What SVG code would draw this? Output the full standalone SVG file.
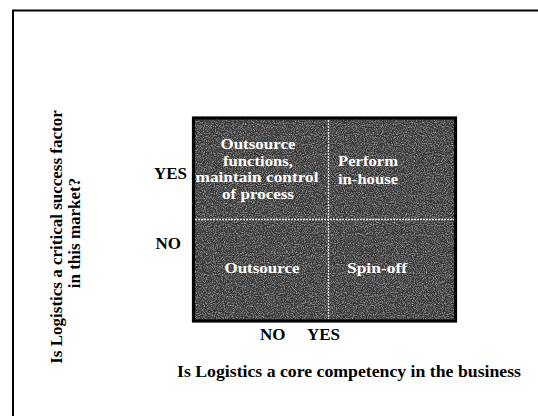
<svg xmlns="http://www.w3.org/2000/svg" width="538" height="416" viewBox="0 0 538 416">
<style>
.lbl{font-family:"Liberation Serif","Times New Roman",serif;font-weight:bold;font-size:17px;fill:#000}
.cell{font-family:"Liberation Serif","Times New Roman",serif;font-weight:bold;font-size:14.8px;fill:#fff;text-anchor:middle}
.div{stroke:#e6e6e6;stroke-width:1.3;stroke-dasharray:2 1}
</style>
<defs>
<filter id="noise" x="0" y="0" width="100%" height="100%" filterUnits="objectBoundingBox">
<feTurbulence type="fractalNoise" baseFrequency="0.9" numOctaves="2" seed="7" result="t"/>
<feColorMatrix in="t" type="matrix" values="0 0 0 0 0.8  0 0 0 0 0.8  0 0 0 0 0.8  1.5 0 0 0 -0.6"/>
</filter>
</defs>
<rect width="538" height="416" fill="#fff"/>
<g id="frame">
<path d="M13 416 V10.5 H538" fill="none" stroke="#000" stroke-width="2"/>
</g>
<g id="matrix">
<rect x="193.5" y="118" width="262" height="203" fill="#333"/>
<rect x="193.5" y="118" width="262" height="203" filter="url(#noise)" fill="#000"/>
<rect x="193.5" y="118" width="262" height="203" fill="none" stroke="#000" stroke-width="3.2"/>
</g>
<g id="connectors">
<line class="div" x1="328.5" y1="120" x2="328.5" y2="319"/>
<line class="div" x1="195" y1="219.5" x2="454" y2="219.5"/>
</g>
<g id="q-top-left">
<text class="cell" x="258" y="149" textLength="75" lengthAdjust="spacingAndGlyphs">Outsource</text>
<text class="cell" x="258" y="165.5" textLength="70" lengthAdjust="spacingAndGlyphs">functions,</text>
<text class="cell" x="257" y="182" textLength="123" lengthAdjust="spacingAndGlyphs">maintain control</text>
<text class="cell" x="258" y="198.5" textLength="72" lengthAdjust="spacingAndGlyphs">of process</text>
</g>
<g id="q-top-right">
<text class="cell" x="368" y="166" textLength="60" lengthAdjust="spacingAndGlyphs">Perform</text>
<text class="cell" x="368" y="183.5" textLength="60" lengthAdjust="spacingAndGlyphs">in-house</text>
</g>
<g id="q-bottom-left">
<text class="cell" x="262" y="273" textLength="75" lengthAdjust="spacingAndGlyphs">Outsource</text>
</g>
<g id="q-bottom-right">
<text class="cell" x="377" y="273" textLength="60" lengthAdjust="spacingAndGlyphs">Spin-off</text>
</g>
<g id="y-axis">
<text class="lbl" x="187" y="179" text-anchor="end">YES</text>
<text class="lbl" x="181" y="249" text-anchor="end">NO</text>
<text class="lbl" transform="translate(62,237) rotate(-90)" text-anchor="middle">Is Logistics a critical success factor</text>
<text class="lbl" transform="translate(80,233) rotate(-90)" text-anchor="middle">in this market?</text>
</g>
<g id="x-axis">
<text class="lbl" x="260" y="340">NO</text>
<text class="lbl" x="307" y="340">YES</text>
<text class="lbl" x="349" y="377" text-anchor="middle" textLength="344" lengthAdjust="spacingAndGlyphs">Is Logistics a core competency in the business</text>
</g>
</svg>
